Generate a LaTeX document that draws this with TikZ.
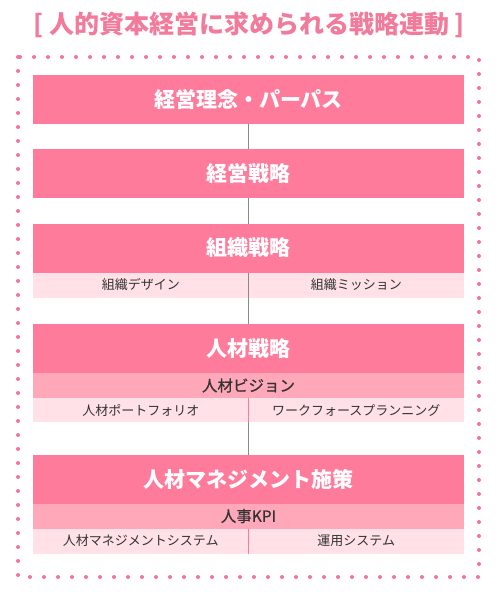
\documentclass[tikz,border=0pt]{standalone}
\usepackage{fontspec}
\setmainfont{Noto Sans CJK JP}
\newfontfamily\semibold[FakeBold=0.6]{Noto Sans CJK JP}
\usepackage{tikz}
\usetikzlibrary{positioning}
\definecolor{headpink}{HTML}{FF7B9C}
\definecolor{midpink}{HTML}{FFA8BA}
\definecolor{palepink}{HTML}{FFE1E7}
\definecolor{titlepink}{HTML}{F27A9A}
\definecolor{dotpink}{HTML}{F4739A}
\definecolor{linkgray}{HTML}{8A8A8A}
\definecolor{darktext}{HTML}{333333}

\begin{document}
\begin{tikzpicture}[x=1pt,y=-1pt,
    headbox/.style={fill=headpink, text=white, minimum width=431pt, minimum height=49pt, inner sep=0pt, outer sep=0pt, font=\fontsize{21}{25}\selectfont\bfseries},
    visionbox/.style={fill=midpink, text=darktext, minimum width=431pt, minimum height=25pt, inner sep=0pt, outer sep=0pt, font=\fontsize{15.5}{18}\semibold},
    cellbox/.style={fill=palepink, text=darktext, minimum width=215.5pt, minimum height=25pt, inner sep=0pt, outer sep=0pt, font=\fontsize{13}{16}\selectfont},
    link/.style={draw=linkgray, line width=1.3pt},
    divider/.style={draw=headpink, line width=1.3pt},
    dotframe/.style={draw=dotpink, line width=4pt, line cap=round, dash pattern=on 0pt off 14pt}]
    \useasboundingbox (0,0) rectangle (498,597);
    \node [text=titlepink, font=\fontsize{25}{29}\selectfont\bfseries] (title) at (249,25) {[ 人的資本経営に求められる戦略連動 ]};
    \draw [dotframe] (18,57) rectangle (479,577);

    % main blocks
    \node [headbox] (purpose) at (248.5,99) {経営理念・パーパス};
    \node [headbox] (mgmt) at (248.5,173) {経営戦略};
    \node [headbox] (org) at (248.5,248) {組織戦略};
    \node [headbox] (hr) at (248.5,348.5) {人材戦略};
    \node [headbox] (hrm) at (248.5,479) {人材マネジメント施策};

    % rows under the blocks
    \node [cellbox, anchor=north west] (orgL) at (org.south west) {組織デザイン};
    \node [cellbox, right=0pt of orgL] (orgR) {組織ミッション};
    \node [visionbox, below=0pt of hr] (vision) {人材ビジョン};
    \node [cellbox, anchor=north west, minimum height=24pt] (hrL) at (vision.south west) {人材ポートフォリオ};
    \node [cellbox, right=0pt of hrL, minimum height=24pt] (hrR) {ワークフォースプランニング};
    \node [visionbox, below=0pt of hrm] (kpi) {人事KPI};
    \node [cellbox, anchor=north west] (hrmL) at (kpi.south west) {人材マネジメントシステム};
    \node [cellbox, right=0pt of hrmL] (hrmR) {運用システム};

    % connectors
    \draw [link] (purpose.south) -- (mgmt.north);
    \draw [link] (mgmt.south) -- (org.north);
    \draw [link] (org.south) -- (hr.north);
    \draw [divider] (hrL.north east) -- (hrL.south east);
    \draw [link] (hrL.south east) -- (hrm.north);
    \draw [divider] (hrmL.north east) -- (hrmL.south east);
\end{tikzpicture}
\end{document}
